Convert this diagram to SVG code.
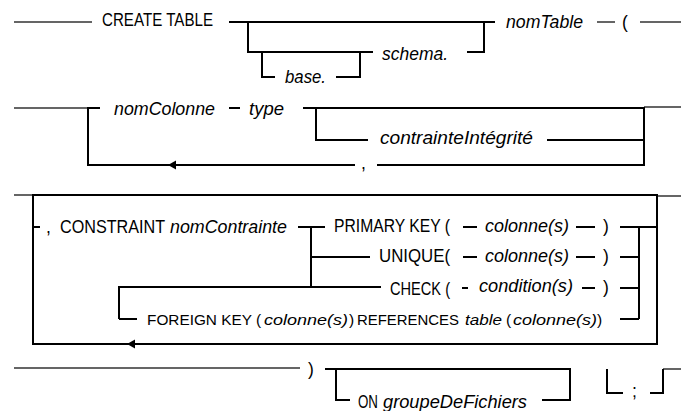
<svg xmlns="http://www.w3.org/2000/svg" width="681" height="411" viewBox="0 0 681 411">
<style>
text{font-family:"Liberation Sans",Arial,sans-serif;font-size:17.5px;fill:#000}
.i{font-style:italic}
.f{font-size:15.5px}
.c{fill:none;stroke:#000;stroke-width:2;stroke-linecap:butt;stroke-linejoin:miter}
.t{fill:none;stroke:#333;stroke-width:1.3}
</style>
<defs>
<path id="arr" d="M0,0 L8,-4.5 L8,4.5 Z" fill="#000"/>
</defs>
<rect width="681" height="411" fill="#fff"/>
<g id="connectors">
<path class="t" d="M14,22H92M597,22H615M640,22H681"/>
<path class="c" d="M229,22H495M248,22V52H373M262,52V77H275M336,77H360V52M467,52H484V22"/>
<path class="t" d="M14,108H88M644,107H681"/>
<path class="c" d="M100,108H88V165H355M377,165H644V108H303M229,108H240M316,108V140H368M547,140H644"/>
<use href="#arr" x="168" y="165"/>
<path class="t" d="M14,195H33M657,196H681"/>
<path class="c" d="M33,195H657V344H33ZM33,227H40M298,227H325M311,227V287M311,257H370M119,319V287H381M119,319H137M463,227H477M576,227H595M463,257H477M576,257H595M462,288H468M582,288H595M620,227H657M639,227V319M620,257H639M620,288H639M620,319H639"/>
<use href="#arr" x="127" y="344"/>
<path class="t" d="M14,368H300M663,369H681"/>
<path class="c" d="M325,369H570V400H542M336,369V400H350M607,369V393H623M650,393H663V369"/>
</g>
<g id="create-table"><text x="102" y="26" textLength="111" lengthAdjust="spacingAndGlyphs">CREATE TABLE</text></g>
<g id="base"><text class="i" x="285" y="83" textLength="41" lengthAdjust="spacingAndGlyphs">base.</text></g>
<g id="schema"><text class="i" x="382" y="60" textLength="66" lengthAdjust="spacingAndGlyphs">schema.</text></g>
<g id="nomTable"><text class="i" x="506" y="28" textLength="77" lengthAdjust="spacingAndGlyphs">nomTable</text></g>
<g id="open-paren"><text x="622" y="28">(</text></g>
<g id="nomColonne"><text class="i" x="114" y="115" textLength="101" lengthAdjust="spacingAndGlyphs">nomColonne</text></g>
<g id="type"><text class="i" x="249" y="115" textLength="35" lengthAdjust="spacingAndGlyphs">type</text></g>
<g id="contrainteIntegrite"><text class="i" x="380" y="144" textLength="153" lengthAdjust="spacingAndGlyphs">contrainteIntégrité</text></g>
<g id="comma"><text x="361" y="169">,</text></g>
<g id="constraint"><text x="46" y="233">,</text><text x="60" y="233" textLength="105" lengthAdjust="spacingAndGlyphs">CONSTRAINT</text><text class="i" x="170" y="233" textLength="117" lengthAdjust="spacingAndGlyphs">nomContrainte</text></g>
<g id="primary-key"><text x="334" y="232" textLength="116" lengthAdjust="spacingAndGlyphs">PRIMARY KEY (</text><text class="i" x="485" y="232" textLength="84" lengthAdjust="spacingAndGlyphs">colonne(s)</text><text x="603" y="232">)</text></g>
<g id="unique"><text x="379" y="262" textLength="71" lengthAdjust="spacingAndGlyphs">UNIQUE(</text><text class="i" x="485" y="262" textLength="84" lengthAdjust="spacingAndGlyphs">colonne(s)</text><text x="603" y="262">)</text></g>
<g id="check"><text x="390" y="295" textLength="60" lengthAdjust="spacingAndGlyphs">CHECK (</text><text class="i" x="479" y="292" textLength="94" lengthAdjust="spacingAndGlyphs">condition(s)</text><text x="603" y="293">)</text></g>
<g id="foreign-key">
<text class="f" x="147" y="325" textLength="114" lengthAdjust="spacingAndGlyphs">FOREIGN KEY (</text>
<text class="i f" x="264" y="325" textLength="84" lengthAdjust="spacingAndGlyphs">colonne(s)</text>
<text class="f" x="349" y="325">)</text>
<text class="f" x="357" y="325" textLength="102" lengthAdjust="spacingAndGlyphs">REFERENCES</text>
<text class="i f" x="465" y="325" textLength="37" lengthAdjust="spacingAndGlyphs">table</text>
<text class="f" x="506" y="325">(</text>
<text class="i f" x="513" y="325" textLength="84" lengthAdjust="spacingAndGlyphs">colonne(s)</text>
<text class="f" x="597" y="325">)</text>
</g>
<g id="close-paren"><text x="308" y="375">)</text></g>
<g id="on-groupe"><text x="358" y="408" textLength="20" lengthAdjust="spacingAndGlyphs">ON</text><text class="i" x="383" y="408" textLength="144" lengthAdjust="spacingAndGlyphs">groupeDeFichiers</text></g>
<g id="semicolon"><text x="632" y="397">;</text></g>
</svg>
